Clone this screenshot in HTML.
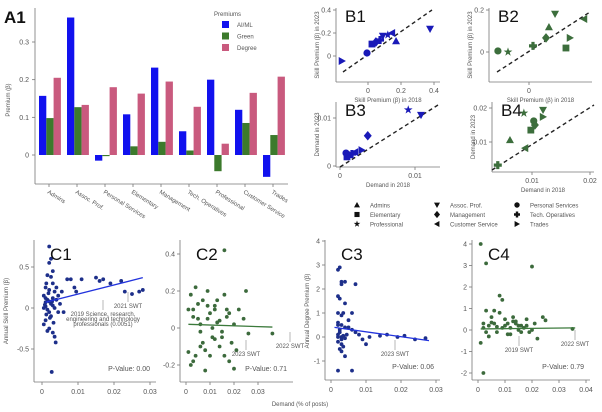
<!DOCTYPE html>
<html><head><meta charset="utf-8"><style>
html,body{margin:0;padding:0;background:#fff;}
svg{display:block;font-family:"Liberation Sans",sans-serif;}
.tk{font-size:7px;fill:#555;}
.lb{font-size:6px;fill:#555;}
.pn{font-size:17px;fill:#111;}
</style></head><body>
<svg id="fig" width="602" height="412" viewBox="0 0 602 412" xmlns="http://www.w3.org/2000/svg"></svg>
<script>
// ---- A1 data ----
const aCategories=["Admins","Assoc. Prof.","Personal Services","Elementary","Management","Tech. Operatives","Professional","Customer Service","Trades"];
const aAiml=[0.157,0.365,-0.015,0.108,0.232,0.063,0.2,0.12,-0.058];
const aGreen=[0.098,0.127,-0.003,0.023,0.035,0.012,-0.043,0.085,0.053];
const aDegree=[0.205,0.133,0.18,0.163,0.195,0.128,0.03,0.165,0.208];
const aTicks=[0,0.1,0.2,0.3];
// ---- B data ----
const bMarkers=["tri-right","circle","square","diamond","plus","tri-down","star","tri-left","tri-up"];
const b1x=[-0.158,-0.006,0.024,0.048,0.073,0.09,0.12,0.145,0.17];
const b1y=[-0.043,0.026,0.104,0.122,0.139,0.174,0.183,0.2,0.13];
const b1extraX=[0.376];const b1extraY=[0.235];
const b2Markers=["circle","star","plus","diamond","tri-up","tri-down","square","tri-right","tri-left"];
const b2x=[-0.148,-0.1,0.019,0.081,0.095,0.124,0.176,0.195,0.262];
const b2y=[0.005,0,0.029,0.067,0.119,0.181,0.019,0.067,0.157];
const b3Markers=["square","tri-up","circle","plus","tri-left","tri-right","diamond","star","tri-down"];
const b3x=[0.00093,0.0013,0.0008,0.0016,0.002,0.0029,0.0037,0.0091,0.0108];
const b3y=[0.0019,0.0023,0.0027,0.0025,0.0029,0.0033,0.0063,0.0117,0.0106];
const b4Markers=["plus","tri-up","star","tri-left","square","circle","diamond","tri-down","tri-right"];
const b4x=[0.0041,0.0062,0.0086,0.0088,0.0098,0.0103,0.0105,0.0119,0.0119];
const b4y=[0.0032,0.0106,0.0185,0.0082,0.0135,0.0162,0.015,0.0194,0.0174];
// ---- C data ----
const c1x=[0.002,0.0025,0.002,0.003,0.0015,0.0025,0.003,0.001,0.002,0.0035,0.0005,0.001,0.0015,0.002,0.0025,0.003,0.001,0.0005,0.0015,0.002,0.0025,0.001,0.0005,0.002,0.003,0.0035,0.0038,0.0015,0.004,0.0045,0.005,0.006,0.0055,0.007,0.008,0.009,0.0095,0.011,0.015,0.016,0.017,0.019,0.022,0.023,0.025,0.027,0.028,0.0027,0.004,0.003,0.0035,0.0045,0.001,0.0012,0.0018,0.0022,0.0028,0.0008,0.0032,0.0012];
const c1y=[0.75,0.6,0.55,0.45,0.4,0.38,0.3,0.25,0.22,0.2,0.15,0.12,0.1,0.08,0.05,0.03,0.02,0,-0.02,-0.05,-0.1,-0.15,-0.2,-0.25,-0.3,-0.35,-0.42,-0.28,0.1,0.15,0.05,-0.05,0.2,0.35,0.35,0.25,0.2,0.35,0.37,0.33,0.35,0.3,0.33,0.2,0.17,0.2,0.22,-0.78,0.25,0.12,0,-0.05,0.07,-0.08,0.18,-0.12,0.08,0.04,-0.18,0.3];
const c2x=[0.016,0.002,0.003,0.004,0.005,0.006,0.007,0.008,0.009,0.01,0.011,0.012,0.013,0.014,0.015,0.016,0.017,0.018,0.019,0.02,0.021,0.022,0.025,0.026,0.036,0.001,0.002,0.004,0.006,0.008,0.009,0.011,0.012,0.013,0.015,0.017,0.003,0.005,0.007,0.01,0.014,0.018,0.02,0.024,0.001,0.003,0.006,0.009,0.012,0.016];
const c2y=[0.42,0.18,0.1,0.22,0.05,-0.02,0.15,-0.12,0.2,0.08,-0.05,0.12,0.03,-0.1,-0.05,0.18,0.06,-0.18,-0.08,0.02,-0.12,0.1,0.2,-0.03,-0.03,-0.13,-0.2,-0.15,-0.1,-0.23,0.05,0,0.1,0.15,-0.02,0.1,0.06,0.13,-0.08,-0.15,0.04,0.08,-0.22,0.05,0.1,-0.18,0.02,0.12,-0.06,-0.15];
const c3x=[0.002,0.0025,0.003,0.002,0.003,0.004,0.0025,0.002,0.003,0.0035,0.002,0.003,0.004,0.0025,0.002,0.003,0.0035,0.004,0.002,0.003,0.0025,0.004,0.002,0.006,0.007,0.006,0.005,0.007,0.008,0.009,0.01,0.011,0.014,0.016,0.019,0.021,0.024,0.027,0.002,0.003,0.0025,0.005,0.006,0.0035,0.002,0.0045,0.003,0.004];
const c3y=[2.8,2.9,2.3,1.7,2.2,1.4,1.6,1,0.9,1,0.6,0.5,0.4,0.3,0.1,0,0.05,-0.05,-0.2,-0.3,-0.5,-0.8,-1.4,-1.4,2.2,1,0.7,0.2,0.1,-0.1,-0.3,0,0.05,0.1,0,0.05,-0.1,-0.05,0,-0.1,0.2,0.4,0.3,-0.4,0.5,0.1,-0.6,2.3];
const c4x=[0.001,0.003,0.02,0.008,0.009,0.001,0.002,0.035,0.003,0.004,0.005,0.006,0.007,0.008,0.009,0.01,0.011,0.012,0.013,0.014,0.015,0.016,0.017,0.018,0.019,0.021,0.022,0.024,0.025,0.002,0.004,0.006,0.01,0.012,0.014,0.016,0.018,0.02,0.005,0.007,0.011,0.013,0.015,0.002,0.003];
const c4y=[4,3.1,2.95,1.6,1.4,-0.6,-2,0.05,0.9,0.2,0.6,0.3,-0.1,0.8,0.1,0.5,0.3,-0.2,0.6,0.4,0,0.2,0.1,0.5,-0.1,0.3,-0.4,0.6,0.45,0.1,-0.3,0.9,0.2,0.1,0.3,-0.1,0.2,0,0.35,0.15,-0.2,0.4,0.2,0.3,-0.1];

const NS="http://www.w3.org/2000/svg";
const svg=document.getElementById('fig');
function el(tag,attrs,parent){const e=document.createElementNS(NS,tag);for(const k in attrs)e.setAttribute(k,attrs[k]);(parent||svg).appendChild(e);return e;}
function txt(x,y,s,cls,extra,parent){const t=el('text',Object.assign({x:x,y:y,class:cls},extra||{}),parent);t.textContent=s;return t;}
function lin(d0,d1,r0,r1){return v=>r0+(v-d0)/(d1-d0)*(r1-r0);}

// ================= A1 =================
const gA=el('g',{});


const ay=lin(0,0.3,155,42);
const groupX=i=>39+i*28;
const bw=7.3;
el('line',{x1:35,y1:8,x2:35,y2:184,stroke:'#777','stroke-width':0.8},gA);
el('line',{x1:35,y1:184,x2:288,y2:184,stroke:'#777','stroke-width':0.8},gA);
aTicks.forEach(t=>{const y=ay(t);el('line',{x1:32,y1:y,x2:35,y2:y,stroke:'#777','stroke-width':0.8},gA);
 const l=txt(29,y+2.5,t===0?'0':String(t),'tk',{'text-anchor':'end'},gA);
 });
const yl=txt(10,100,'Premium (β)','lb',{transform:'rotate(-90 10 100)','text-anchor':'middle'},gA);

const series=[[aAiml,'#1111ee','aiml'],[aGreen,'#3c7a2c','green'],[aDegree,'#c95a7e','degree']];
aCategories.forEach((c,i)=>{
 series.forEach((s,j)=>{const v=s[0][i];const x=groupX(i)+j*bw;const y0=ay(0),y1=ay(v);
  const r=el('rect',{x:x,y:Math.min(y0,y1),width:bw,height:Math.abs(y1-y0),fill:s[1]},gA);
  });
 const cx=groupX(i)+10;
 el('line',{x1:cx,y1:184,x2:cx,y2:187,stroke:'#777','stroke-width':0.8},gA);
 const l=txt(cx-2,193,c,'lb',{transform:'rotate(32 '+(cx-2)+' 193)'},gA);
 
});
const pA=txt(4,23,'A1','pn',{'font-weight':'bold'},gA);
const lg=el('g',{},gA);
txt(214,16,'Premiums','lb',{fill:'#333','font-size':'6.5px'},lg);
[['AI/ML','#1111ee'],['Green','#3c7a2c'],['Degree','#c95a7e']].forEach((d,i)=>{
 const y=21+i*11.5;el('rect',{x:222,y:y,width:7,height:7,fill:d[1]},lg);
 const t=txt(237,y+6,d[0],'lb',{},lg);});

// ================= markers =================
function marker(type,x,y,s,fill,parent){
 let e;
 const h=s;
 switch(type){
  case 'circle':e=el('circle',{cx:x,cy:y,r:h*0.9,fill:fill},parent);break;
  case 'square':e=el('rect',{x:x-h*0.85,y:y-h*0.85,width:h*1.7,height:h*1.7,fill:fill},parent);break;
  case 'diamond':e=el('polygon',{points:`${x},${y-h*1.2} ${x+h},${y} ${x},${y+h*1.2} ${x-h},${y}`,fill:fill},parent);break;
  case 'tri-up':e=el('polygon',{points:`${x},${y-h} ${x+h},${y+h*0.8} ${x-h},${y+h*0.8}`,fill:fill},parent);break;
  case 'tri-down':e=el('polygon',{points:`${x},${y+h} ${x+h},${y-h*0.8} ${x-h},${y-h*0.8}`,fill:fill},parent);break;
  case 'tri-left':e=el('polygon',{points:`${x-h},${y} ${x+h*0.8},${y-h} ${x+h*0.8},${y+h}`,fill:fill},parent);break;
  case 'tri-right':e=el('polygon',{points:`${x+h},${y} ${x-h*0.8},${y-h} ${x-h*0.8},${y+h}`,fill:fill},parent);break;
  case 'plus':e=el('path',{d:`M${x-h} ${y}H${x+h}M${x} ${y-h}V${y+h}`,stroke:fill,'stroke-width':h*0.8},parent);break;
  case 'star':{let p=[];for(let k=0;k<10;k++){const a=-Math.PI/2+k*Math.PI/5;const r=k%2?h*0.45:h*1.15;p.push((x+r*Math.cos(a)).toFixed(2)+','+(y+r*Math.sin(a)).toFixed(2));}
   e=el('polygon',{points:p.join(' '),fill:fill},parent);break;}
  case 'dot':e=el('circle',{cx:x,cy:y,r:h,fill:fill},parent);break;
 }
 return e;
}

// ================= B panels =================
function bPanel(o){
 const g=el('g',{});
 
 
 const xs=lin(o.xd[0],o.xd[1],o.xr[0],o.xr[1]);
 const ys=lin(o.yd[0],o.yd[1],o.yr[0],o.yr[1]);
 el('line',{x1:o.left,y1:o.top,x2:o.left,y2:o.bottom,stroke:'#777','stroke-width':0.8},g);
 el('line',{x1:o.left,y1:o.bottom,x2:o.right,y2:o.bottom,stroke:'#777','stroke-width':0.8},g);
 o.xt.forEach(t=>{const x=xs(t);el('line',{x1:x,y1:o.bottom,x2:x,y2:o.bottom+3,stroke:'#777','stroke-width':0.8},g);
  const l=txt(x,o.bottom+11,String(t),'tk',{'text-anchor':'middle'},g);});
 o.yt.forEach(t=>{const y=ys(t);el('line',{x1:o.left-3,y1:y,x2:o.left,y2:y,stroke:'#777','stroke-width':0.8},g);
  const l=txt(o.left-5,y+2.5,String(t),'tk',{'text-anchor':'end'},g);});
 el('line',{x1:o.diag[0],y1:o.diag[1],x2:o.diag[2],y2:o.diag[3],stroke:'#222','stroke-width':1.4,'stroke-dasharray':'4 3'},g);
 o.xs.forEach((v,i)=>{const m=marker(o.markers[i],xs(v),ys(o.ys[i]),4,o.color,g);
  });
 const xl=txt((o.left+o.right)/2,o.bottom+20,o.xlabel,'lb',{'text-anchor':'middle','font-size':'5.5px'},g);
 
 const yx=o.left-17,yy=(o.top+o.bottom)/2;
 const yl=txt(yx,yy,o.ylabel,'lb',{transform:`rotate(-90 ${yx} ${yy})`,'text-anchor':'middle','font-size':'5.5px'},g);
 
 const p=txt(o.left+9,o.top+14,o.label,'pn',{},g);
 return {g,xs,ys};
}
const B1=bPanel({name:'chart-b1',label:'B1',left:336,right:440,top:8,bottom:82,xd:[0,0.2],xr:[368,401],yd:[0,0.2],yr:[56,33],xt:[0,0.2,0.4],yt:[0,0.2,0.4],diag:[343,72,432,10],xs:b1x,ys:b1y,markers:bMarkers,color:'#1a1ab8',xlabel:'Skill Premium (β) in 2018',ylabel:'Skill Premium (β) in 2023'});
b1extraX.forEach((v,i)=>{const m=marker('tri-down',B1.xs(v),B1.ys(b1extraY[i]),4,'#1a1ab8',B1.g);});
bPanel({name:'chart-b2',label:'B2',left:489,right:592,top:8,bottom:82,xd:[0,0.2],xr:[529,571],yd:[0,0.2],yr:[52,10],xt:[0],yt:[0,0.2],diag:[497,72,590,12],xs:b2x,ys:b2y,markers:b2Markers,color:'#3c6e3c',xlabel:'Skill Premium (β) in 2018',ylabel:'Skill Premium (β) in 2023'});
bPanel({name:'chart-b3',label:'B3',left:336,right:440,top:102,bottom:167,xd:[0,0.01],xr:[340,415],yd:[0,0.01],yr:[166,118],xt:[0,0.01],yt:[0,0.01],diag:[340,167,438,105],xs:b3x,ys:b3y,markers:b3Markers,color:'#1a1ab8',xlabel:'Demand in 2018',ylabel:'Demand in 2023'});
bPanel({name:'chart-b4',label:'B4',left:492,right:594,top:102,bottom:172,xd:[0.01,0.02],xr:[532,590],yd:[0.01,0.02],yr:[142,108],xt:[0.01,0.02],yt:[0.01,0.02],diag:[492,170,594,105],xs:b4x,ys:b4y,markers:b4Markers,color:'#3c6e3c',xlabel:'Demand in 2018',ylabel:'Demand in 2023'});

// B legend
const bl=el('g',{});
const legItems=[['tri-up','Admins'],['tri-down','Assoc. Prof.'],['circle','Personal Services'],['square','Elementary'],['diamond','Management'],['plus','Tech. Operatives'],['star','Professional'],['tri-left','Customer Service'],['tri-right','Trades']];
legItems.forEach((d,i)=>{const col=i%3,row=Math.floor(i/3);const x=357+col*80,y=205+row*9.5;
 marker(d[0],x,y,3,'#111',bl);const t=txt(x+13,y+2.3,d[1],'lb',{},bl);});

// ================= C panels =================
function cPanel(o){
 const g=el('g',{});
 
 
 const xs=lin(o.xd[0],o.xd[1],o.xr[0],o.xr[1]);
 const ys=lin(o.yd[0],o.yd[1],o.yr[0],o.yr[1]);
 el('line',{x1:o.left,y1:o.top,x2:o.left,y2:o.bottom,stroke:'#777','stroke-width':0.8},g);
 el('line',{x1:o.left,y1:o.bottom,x2:o.right,y2:o.bottom,stroke:'#777','stroke-width':0.8},g);
 o.xt.forEach(t=>{const x=xs(t);el('line',{x1:x,y1:o.bottom,x2:x,y2:o.bottom+3,stroke:'#777','stroke-width':0.8},g);
  const l=txt(x,o.bottom+12,String(t),'tk',{'text-anchor':'middle'},g);});
 o.yt.forEach(t=>{const y=ys(t);el('line',{x1:o.left-3,y1:y,x2:o.left,y2:y,stroke:'#777','stroke-width':0.8},g);
  const l=txt(o.left-5,y+2.5,String(t),'tk',{'text-anchor':'end'},g);});
 o.xs.forEach((v,i)=>{const m=marker('dot',xs(v),ys(o.ys[i]),1.9,o.color,g);});
 const tl=el('line',{x1:xs(o.trend[0]),y1:ys(o.trend[1]),x2:xs(o.trend[2]),y2:ys(o.trend[3]),stroke:o.line,'stroke-width':1.3},g);
 
 const p=txt(o.left+16,o.top+20,o.label,'pn',{},g);
 const pv=txt(o.right-6,o.bottom-11,'P-Value: '+o.p,'tk',{'text-anchor':'end','font-size':'7.5px',fill:'#444'},g);
 
 (o.notes||[]).forEach(n=>{el('line',{x1:n[0],y1:n[1],x2:n[0],y2:n[1]+10,stroke:'#999','stroke-width':0.7},g);
  n[2].split('|').forEach((s,k)=>{const t=txt(n[0],n[1]+16+k*5,s,'lb',{'text-anchor':'middle','font-size':'4.5px',fill:'#777'},g);});});
 return g;
}
const cBlue='#1d2f8a',cGreen='#3c6a3c';
cPanel({name:'chart-c1',label:'C1',left:34,right:156,top:240,bottom:382,xd:[0,0.01],xr:[42,78],yd:[0,0.5],yr:[308,267],xt:[0,0.01,0.02,0.03],yt:[0.5,0,-0.5],xs:c1x,ys:c1y,color:cBlue,line:'#2233dd',trend:[0.001,0.07,0.028,0.37],p:'0.00',notes:[[103,300,'2019 Science, research,|engineering and technology|professionals (0.0051)'],[128,292,'2021 SWT']]});
cPanel({name:'chart-c2',label:'C2',left:180,right:293,top:240,bottom:382,xd:[0,0.01],xr:[186,210],yd:[0,0.2],yr:[328,291],xt:[0,0.01,0.02,0.03],yt:[0.4,0.2,0,-0.2],xs:c2x,ys:c2y,color:cGreen,line:'#3c7a3c',trend:[0.001,0.02,0.036,0.005],p:'0.71',notes:[[246,340,'2023 SWT'],[290,332,'2022 SWT']]});
cPanel({name:'chart-c3',label:'C3',left:325,right:440,top:240,bottom:380,xd:[0,0.01],xr:[331,366],yd:[0,1],yr:[337,313],xt:[0,0.01,0.02,0.03],yt:[4,3,2,1,0,-1],xs:c3x,ys:c3y,color:cBlue,line:'#2233dd',trend:[0.001,0.4,0.028,-0.15],p:'0.06',notes:[[395,340,'2023 SWT']]});
cPanel({name:'chart-c4',label:'C4',left:472,right:590,top:240,bottom:380,xd:[0,0.01],xr:[478,505],yd:[0,1],yr:[330,308.5],xt:[0,0.01,0.02,0.03,0.04],yt:[4,3,2,1,0,-1,-2],xs:c4x,ys:c4y,color:cGreen,line:'#3c7a3c',trend:[0.001,0.05,0.036,0.1],p:'0.79',notes:[[519,336,'2019 SWT'],[575,330,'2022 SWT']]});
const cy1=txt(8,311,'Annual Skill Premium (β)','lb',{transform:'rotate(-90 8 311)','text-anchor':'middle','font-size':'6.5px'});

const cy3=txt(309,311,'Annual Degree Premium (β)','lb',{transform:'rotate(-90 309 311)','text-anchor':'middle','font-size':'6.5px'});

const cx=txt(300,406,'Demand (% of posts)','lb',{'text-anchor':'middle','font-size':'6.5px'});

</script>
</body></html>
